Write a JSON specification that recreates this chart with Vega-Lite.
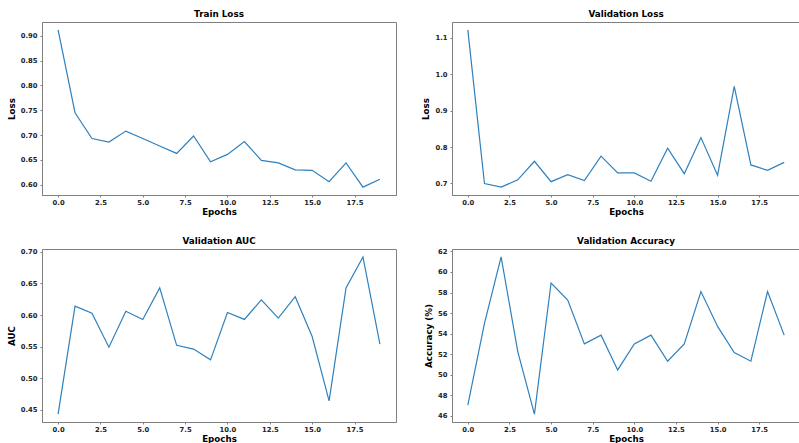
{
  "$schema": "https://vega.github.io/schema/vega-lite/v6.json",
  "padding": {"left": 6, "top": 9, "right": 0, "bottom": 0},
  "background": "white",
  "bounds": "flush",
  "columns": 2,
  "spacing": {"column": 56, "row": 54},
  "data": {
    "values": [
      {"epoch": 0, "train_loss": 0.912, "val_loss": 1.122, "val_auc": 0.443, "val_acc": 47.04},
      {"epoch": 1, "train_loss": 0.745, "val_loss": 0.700, "val_auc": 0.614, "val_acc": 55.0},
      {"epoch": 2, "train_loss": 0.693, "val_loss": 0.690, "val_auc": 0.603, "val_acc": 61.47},
      {"epoch": 3, "train_loss": 0.686, "val_loss": 0.710, "val_auc": 0.549, "val_acc": 52.25},
      {"epoch": 4, "train_loss": 0.708, "val_loss": 0.761, "val_auc": 0.606, "val_acc": 46.16},
      {"epoch": 5, "train_loss": 0.693, "val_loss": 0.705, "val_auc": 0.593, "val_acc": 58.93},
      {"epoch": 6, "train_loss": 0.678, "val_loss": 0.724, "val_auc": 0.643, "val_acc": 57.27},
      {"epoch": 7, "train_loss": 0.663, "val_loss": 0.708, "val_auc": 0.552, "val_acc": 53.0},
      {"epoch": 8, "train_loss": 0.698, "val_loss": 0.775, "val_auc": 0.546, "val_acc": 53.85},
      {"epoch": 9, "train_loss": 0.646, "val_loss": 0.729, "val_auc": 0.529, "val_acc": 50.46},
      {"epoch": 10, "train_loss": 0.661, "val_loss": 0.729, "val_auc": 0.604, "val_acc": 53.0},
      {"epoch": 11, "train_loss": 0.687, "val_loss": 0.706, "val_auc": 0.593, "val_acc": 53.85},
      {"epoch": 12, "train_loss": 0.649, "val_loss": 0.797, "val_auc": 0.624, "val_acc": 51.31},
      {"epoch": 13, "train_loss": 0.644, "val_loss": 0.727, "val_auc": 0.595, "val_acc": 53.0},
      {"epoch": 14, "train_loss": 0.630, "val_loss": 0.826, "val_auc": 0.629, "val_acc": 58.1},
      {"epoch": 15, "train_loss": 0.629, "val_loss": 0.723, "val_auc": 0.566, "val_acc": 54.7},
      {"epoch": 16, "train_loss": 0.606, "val_loss": 0.967, "val_auc": 0.464, "val_acc": 52.16},
      {"epoch": 17, "train_loss": 0.644, "val_loss": 0.751, "val_auc": 0.643, "val_acc": 51.31},
      {"epoch": 18, "train_loss": 0.595, "val_loss": 0.736, "val_auc": 0.692, "val_acc": 58.1},
      {"epoch": 19, "train_loss": 0.611, "val_loss": 0.758, "val_auc": 0.554, "val_acc": 53.85}
    ]
  },
  "concat": [
    {
      "title": "Train Loss",
      "width": 354,
      "height": 173,
      "mark": {"type": "line", "color": "#2f81bd", "strokeWidth": 1.2},
      "encoding": {
        "x": {"field": "epoch", "type": "quantitative", "title": "Epochs",
              "scale": {"domain": [-0.95, 19.95], "nice": false, "zero": false},
              "axis": {"values": [0, 2.5, 5, 7.5, 10, 12.5, 15, 17.5], "format": ".1f"}},
        "y": {"field": "train_loss", "type": "quantitative", "title": "Loss",
              "scale": {"domain": [0.5792, 0.9278], "nice": false, "zero": false},
              "axis": {"values": [0.6, 0.65, 0.7, 0.75, 0.8, 0.85, 0.9], "format": ".2f"}}
      }
    },
    {
      "title": "Validation Loss",
      "width": 348,
      "height": 173,
      "mark": {"type": "line", "color": "#2f81bd", "strokeWidth": 1.2},
      "encoding": {
        "x": {"field": "epoch", "type": "quantitative", "title": "Epochs",
              "scale": {"domain": [-0.95, 19.95], "nice": false, "zero": false},
              "axis": {"values": [0, 2.5, 5, 7.5, 10, 12.5, 15, 17.5], "format": ".1f"}},
        "y": {"field": "val_loss", "type": "quantitative", "title": "Loss",
              "scale": {"domain": [0.6684, 1.1436], "nice": false, "zero": false},
              "axis": {"values": [0.7, 0.8, 0.9, 1.0, 1.1], "format": ".1f"}}
      }
    },
    {
      "title": "Validation AUC",
      "width": 354,
      "height": 173,
      "mark": {"type": "line", "color": "#2f81bd", "strokeWidth": 1.2},
      "encoding": {
        "x": {"field": "epoch", "type": "quantitative", "title": "Epochs",
              "scale": {"domain": [-0.95, 19.95], "nice": false, "zero": false},
              "axis": {"values": [0, 2.5, 5, 7.5, 10, 12.5, 15, 17.5], "format": ".1f"}},
        "y": {"field": "val_auc", "type": "quantitative", "title": "AUC",
              "scale": {"domain": [0.4306, 0.7045], "nice": false, "zero": false},
              "axis": {"values": [0.45, 0.5, 0.55, 0.6, 0.65, 0.7], "format": ".2f"}}
      }
    },
    {
      "title": "Validation Accuracy",
      "width": 348,
      "height": 173,
      "mark": {"type": "line", "color": "#2f81bd", "strokeWidth": 1.2},
      "encoding": {
        "x": {"field": "epoch", "type": "quantitative", "title": "Epochs",
              "scale": {"domain": [-0.95, 19.95], "nice": false, "zero": false},
              "axis": {"values": [0, 2.5, 5, 7.5, 10, 12.5, 15, 17.5], "format": ".1f"}},
        "y": {"field": "val_acc", "type": "quantitative", "title": "Accuracy (%)",
              "scale": {"domain": [45.39, 62.24], "nice": false, "zero": false},
              "axis": {"values": [46, 48, 50, 52, 54, 56, 58, 60, 62], "format": "d"}}
      }
    }
  ],
  "config": {
    "font": "DejaVu Sans",
    "view": {"stroke": "#808080", "strokeWidth": 1},
    "title": {"fontSize": 8.8, "fontWeight": "bold", "color": "#000000", "offset": 3, "anchor": "middle"},
    "axis": {
      "grid": false,
      "domainColor": "#808080",
      "tickColor": "#808080",
      "tickSize": 2,
      "labelFont": "DejaVu Sans",
      "labelFontSize": 6.8,
      "labelFontWeight": "bold",
      "labelColor": "#222222",
      "labelPadding": 3,
      "titleFont": "DejaVu Sans",
      "titleFontSize": 8.7,
      "titleFontWeight": "bold",
      "titleColor": "#000000"
    },
    "axisX": {"titlePadding": 2, "labelPadding": 2},
    "axisY": {"titlePadding": 4}
  }
}
